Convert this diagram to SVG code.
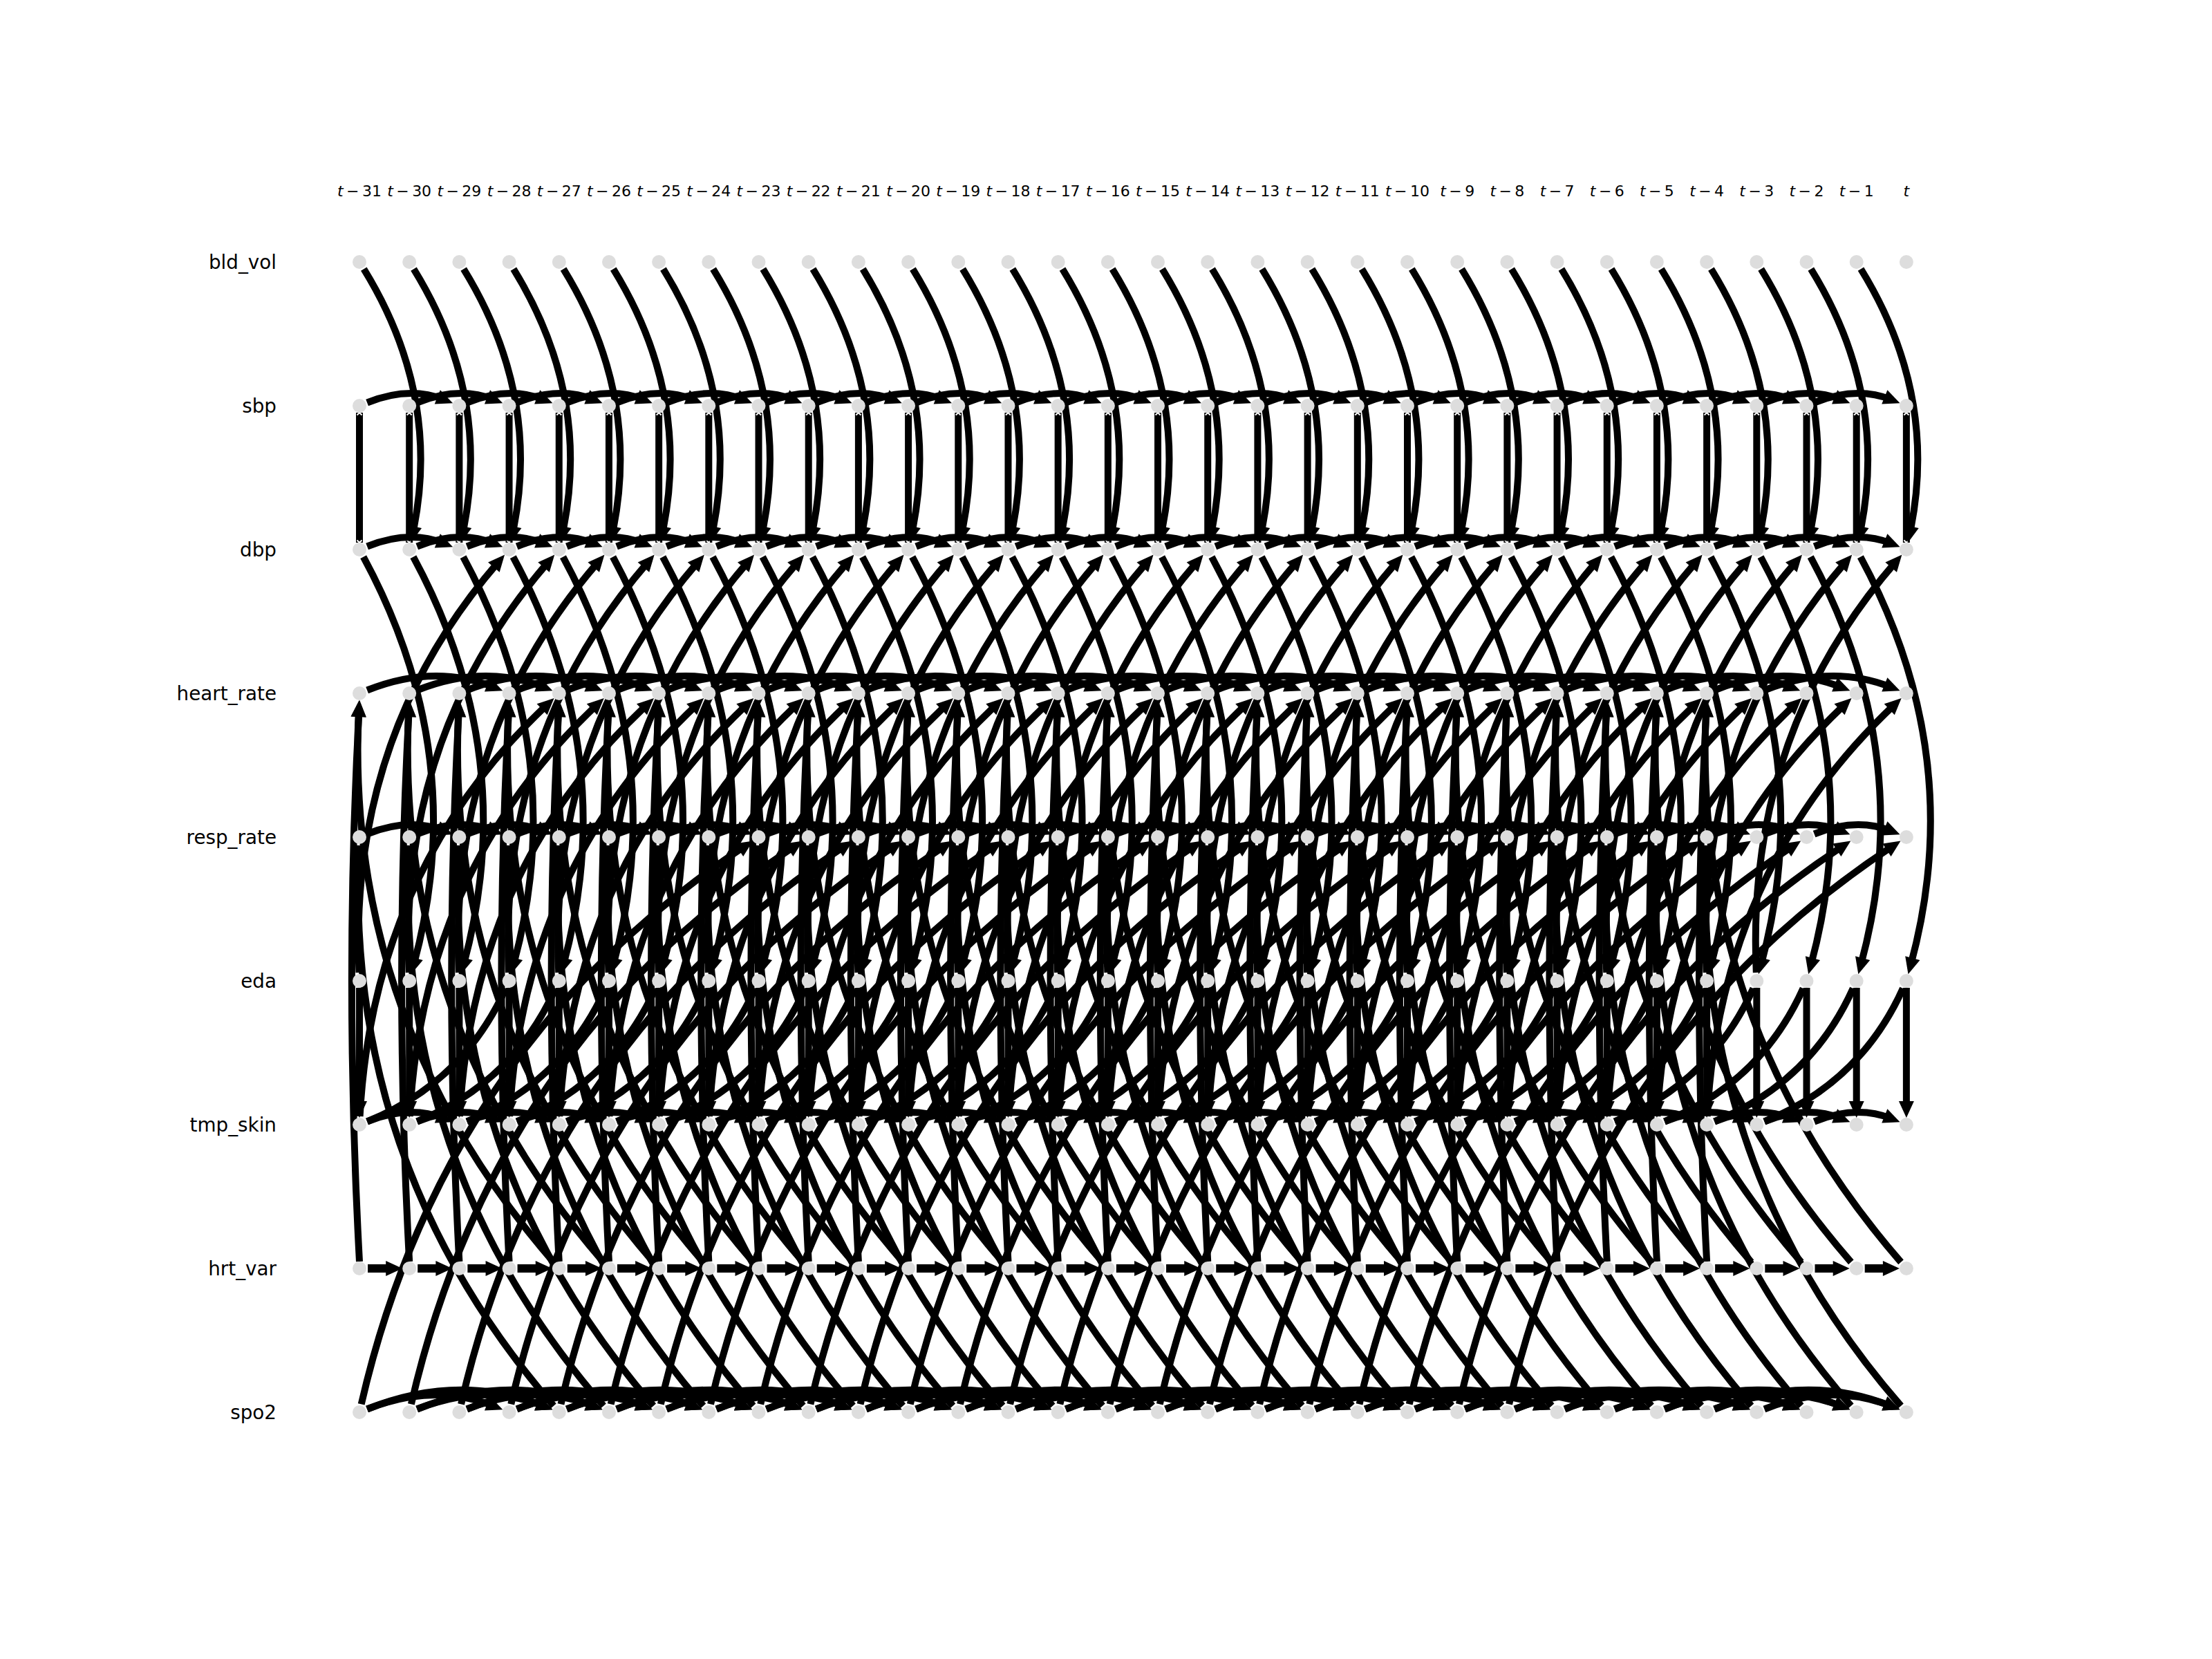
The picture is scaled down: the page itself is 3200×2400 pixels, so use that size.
<svg xmlns="http://www.w3.org/2000/svg" width="3200" height="2400" viewBox="0 0 3200 2400">
<style>
.lbl{font-family:"DejaVu Sans",sans-serif;font-size:27.8px;fill:#000;text-anchor:end}
.tl{font-family:"DejaVu Sans",sans-serif;font-size:22px;fill:#000;text-anchor:middle}
.nodes circle{fill:#dddddd}
.e{fill:none;stroke:#000;stroke-width:10}
.a{marker-end:url(#ah)}
.xx{marker-start:url(#xm);marker-end:url(#xm)}
.w{stroke-width:12}
</style>
<defs>
<marker id="ah" markerUnits="userSpaceOnUse" markerWidth="24" markerHeight="22" refX="10" refY="11" orient="auto" overflow="visible"><path d="M0,0 L24,11 L0,22 Z" fill="#000"/></marker>
<marker id="xm" markerUnits="userSpaceOnUse" markerWidth="12" markerHeight="12" refX="6" refY="6" orient="auto" overflow="visible"><path d="M2.5,2.5 L9.5,9.5 M9.5,2.5 L2.5,9.5" stroke="#fff" stroke-width="2" fill="none"/></marker>
<g id="L0">
<path class="e xx" d="M520,597 L520,785"/>
<path class="e a" d="M520,1429 L520,1603"/>
</g>
<g id="L1">
<path class="e a" d="M526.3,389.2 Q639.3,572.6 597.2,771.5"/>
<path class="e a" d="M525.7,805.6 Q680.9,1092.6 598.5,1395.8"/>
<path class="e a w" d="M532,1835 L568.2,1835"/>
</g>
<g id="L2">
<path class="e a" d="M531.1,582.5 Q592.19,558.1 642.1,578.1"/>
<path class="e a" d="M531.1,790.5 Q592.19,766.1 642.1,786.1"/>
<path class="e a" d="M531.1,1206.5 Q592.19,1182.1 642.1,1202.1"/>
<path class="e a" d="M531.1,1622.5 Q592.19,1598.1 642.1,1618.1"/>
</g>
<g id="L3">
<path class="e a" d="M531.1,998.5 Q628.3,959.7 714.3,994.1"/>
<path class="e a" d="M519.5,1407 Q503.7,1063.6 720.9,813.1"/>
<path class="e a" d="M531.1,2038.5 Q628.3,1999.7 714.3,2034.1"/>
<path class="e" d="M731.6,1429.9 Q669.9,1566.3 531.1,1622.5"/>
</g>
<g id="L4">
<path class="e a" d="M531.1,2038.5 Q664.38,1985.25 786.5,2034.1"/>
<path class="e a" d="M520,1825 Q498,1419 519.5,1027"/>
<path class="e a" d="M520.6,1615 Q539.6,1257.25 791.4,1019.5"/>
<path class="e a" d="M800.9,1825.9 Q497.98,1476.75 518.9,1027"/>
<path class="e" d="M800.9,2033.9 Q497.98,1684.75 519.4,1223"/>
</g>
<g id="L8">
<path class="e a" d="M522.7,2031.3 Q642.4,1511.5 1077.5,1224.2"/>
</g>
<g id="L0x2"><use href="#L0"/><use href="#L0" x="72.19"/></g>
<g id="L0x4"><use href="#L0x2"/><use href="#L0x2" x="144.38"/></g>
<g id="L0x8"><use href="#L0x4"/><use href="#L0x4" x="288.76"/></g>
<g id="L0x16"><use href="#L0x8"/><use href="#L0x8" x="577.52"/></g>
<g id="L1x2"><use href="#L1"/><use href="#L1" x="72.19"/></g>
<g id="L1x4"><use href="#L1x2"/><use href="#L1x2" x="144.38"/></g>
<g id="L1x8"><use href="#L1x4"/><use href="#L1x4" x="288.76"/></g>
<g id="L1x16"><use href="#L1x8"/><use href="#L1x8" x="577.52"/></g>
<g id="L2x2"><use href="#L2"/><use href="#L2" x="72.19"/></g>
<g id="L2x4"><use href="#L2x2"/><use href="#L2x2" x="144.38"/></g>
<g id="L2x8"><use href="#L2x4"/><use href="#L2x4" x="288.76"/></g>
<g id="L2x16"><use href="#L2x8"/><use href="#L2x8" x="577.52"/></g>
<g id="L3x2"><use href="#L3"/><use href="#L3" x="72.19"/></g>
<g id="L3x4"><use href="#L3x2"/><use href="#L3x2" x="144.38"/></g>
<g id="L3x8"><use href="#L3x4"/><use href="#L3x4" x="288.76"/></g>
<g id="L3x16"><use href="#L3x8"/><use href="#L3x8" x="577.52"/></g>
<g id="L4x2"><use href="#L4"/><use href="#L4" x="72.19"/></g>
<g id="L4x4"><use href="#L4x2"/><use href="#L4x2" x="144.38"/></g>
<g id="L4x8"><use href="#L4x4"/><use href="#L4x4" x="288.76"/></g>
<g id="L4x16"><use href="#L4x8"/><use href="#L4x8" x="577.52"/></g>
<g id="L8x2"><use href="#L8"/><use href="#L8" x="72.19"/></g>
<g id="L8x4"><use href="#L8x2"/><use href="#L8x2" x="144.38"/></g>
<g id="L8x8"><use href="#L8x4"/><use href="#L8x4" x="288.76"/></g>
<g id="L8x16"><use href="#L8x8"/><use href="#L8x8" x="577.52"/></g>
</defs>
<rect width="3200" height="2400" fill="#fff"/>
<g id="connectors">
<use href="#L0x16"/><use href="#L0x16" x="1155.04"/>
<use href="#L1x16"/><use href="#L1x8" x="1155.04"/><use href="#L1x4" x="1732.56"/><use href="#L1x2" x="2021.32"/><use href="#L1" x="2165.7"/>
<use href="#L2x16"/><use href="#L2x8" x="1155.04"/><use href="#L2x4" x="1732.56"/><use href="#L2x2" x="2021.32"/>
<use href="#L3x16"/><use href="#L3x8" x="1155.04"/><use href="#L3x4" x="1732.56"/><use href="#L3" x="2021.32"/>
<use href="#L4x16"/><use href="#L4x8" x="1155.04"/><use href="#L4x4" x="1732.56"/>
<use href="#L8x16"/><use href="#L8x8" x="1155.04"/>
</g>
<g id="labels">
<text class="lbl" x="400" y="389">bld_vol</text>
<text class="lbl" x="400" y="597">sbp</text>
<text class="lbl" x="400" y="805">dbp</text>
<text class="lbl" x="400" y="1013">heart_rate</text>
<text class="lbl" x="400" y="1221">resp_rate</text>
<text class="lbl" x="400" y="1429">eda</text>
<text class="lbl" x="400" y="1637">tmp_skin</text>
<text class="lbl" x="400" y="1845">hrt_var</text>
<text class="lbl" x="400" y="2053">spo2</text>
</g>
<g id="time-labels">
<text class="tl" x="520" y="284"><tspan font-style="italic">t</tspan>&#8201;−&#8201;31</text>
<text class="tl" x="592.2" y="284"><tspan font-style="italic">t</tspan>&#8201;−&#8201;30</text>
<text class="tl" x="664.4" y="284"><tspan font-style="italic">t</tspan>&#8201;−&#8201;29</text>
<text class="tl" x="736.6" y="284"><tspan font-style="italic">t</tspan>&#8201;−&#8201;28</text>
<text class="tl" x="808.8" y="284"><tspan font-style="italic">t</tspan>&#8201;−&#8201;27</text>
<text class="tl" x="881" y="284"><tspan font-style="italic">t</tspan>&#8201;−&#8201;26</text>
<text class="tl" x="953.1" y="284"><tspan font-style="italic">t</tspan>&#8201;−&#8201;25</text>
<text class="tl" x="1025.3" y="284"><tspan font-style="italic">t</tspan>&#8201;−&#8201;24</text>
<text class="tl" x="1097.5" y="284"><tspan font-style="italic">t</tspan>&#8201;−&#8201;23</text>
<text class="tl" x="1169.7" y="284"><tspan font-style="italic">t</tspan>&#8201;−&#8201;22</text>
<text class="tl" x="1241.9" y="284"><tspan font-style="italic">t</tspan>&#8201;−&#8201;21</text>
<text class="tl" x="1314.1" y="284"><tspan font-style="italic">t</tspan>&#8201;−&#8201;20</text>
<text class="tl" x="1386.3" y="284"><tspan font-style="italic">t</tspan>&#8201;−&#8201;19</text>
<text class="tl" x="1458.5" y="284"><tspan font-style="italic">t</tspan>&#8201;−&#8201;18</text>
<text class="tl" x="1530.7" y="284"><tspan font-style="italic">t</tspan>&#8201;−&#8201;17</text>
<text class="tl" x="1602.9" y="284"><tspan font-style="italic">t</tspan>&#8201;−&#8201;16</text>
<text class="tl" x="1675" y="284"><tspan font-style="italic">t</tspan>&#8201;−&#8201;15</text>
<text class="tl" x="1747.2" y="284"><tspan font-style="italic">t</tspan>&#8201;−&#8201;14</text>
<text class="tl" x="1819.4" y="284"><tspan font-style="italic">t</tspan>&#8201;−&#8201;13</text>
<text class="tl" x="1891.6" y="284"><tspan font-style="italic">t</tspan>&#8201;−&#8201;12</text>
<text class="tl" x="1963.8" y="284"><tspan font-style="italic">t</tspan>&#8201;−&#8201;11</text>
<text class="tl" x="2036" y="284"><tspan font-style="italic">t</tspan>&#8201;−&#8201;10</text>
<text class="tl" x="2108.2" y="284"><tspan font-style="italic">t</tspan>&#8201;−&#8201;9</text>
<text class="tl" x="2180.4" y="284"><tspan font-style="italic">t</tspan>&#8201;−&#8201;8</text>
<text class="tl" x="2252.6" y="284"><tspan font-style="italic">t</tspan>&#8201;−&#8201;7</text>
<text class="tl" x="2324.8" y="284"><tspan font-style="italic">t</tspan>&#8201;−&#8201;6</text>
<text class="tl" x="2396.9" y="284"><tspan font-style="italic">t</tspan>&#8201;−&#8201;5</text>
<text class="tl" x="2469.1" y="284"><tspan font-style="italic">t</tspan>&#8201;−&#8201;4</text>
<text class="tl" x="2541.3" y="284"><tspan font-style="italic">t</tspan>&#8201;−&#8201;3</text>
<text class="tl" x="2613.5" y="284"><tspan font-style="italic">t</tspan>&#8201;−&#8201;2</text>
<text class="tl" x="2685.7" y="284"><tspan font-style="italic">t</tspan>&#8201;−&#8201;1</text>
<text class="tl" x="2757.9" y="284"><tspan font-style="italic">t</tspan></text>
</g>
<g id="nodes" class="nodes">
<g id="n-bld_vol-31"><circle cx="520" cy="379" r="10"/></g>
<g id="n-bld_vol-30"><circle cx="592.2" cy="379" r="10"/></g>
<g id="n-bld_vol-29"><circle cx="664.4" cy="379" r="10"/></g>
<g id="n-bld_vol-28"><circle cx="736.6" cy="379" r="10"/></g>
<g id="n-bld_vol-27"><circle cx="808.8" cy="379" r="10"/></g>
<g id="n-bld_vol-26"><circle cx="881" cy="379" r="10"/></g>
<g id="n-bld_vol-25"><circle cx="953.1" cy="379" r="10"/></g>
<g id="n-bld_vol-24"><circle cx="1025.3" cy="379" r="10"/></g>
<g id="n-bld_vol-23"><circle cx="1097.5" cy="379" r="10"/></g>
<g id="n-bld_vol-22"><circle cx="1169.7" cy="379" r="10"/></g>
<g id="n-bld_vol-21"><circle cx="1241.9" cy="379" r="10"/></g>
<g id="n-bld_vol-20"><circle cx="1314.1" cy="379" r="10"/></g>
<g id="n-bld_vol-19"><circle cx="1386.3" cy="379" r="10"/></g>
<g id="n-bld_vol-18"><circle cx="1458.5" cy="379" r="10"/></g>
<g id="n-bld_vol-17"><circle cx="1530.7" cy="379" r="10"/></g>
<g id="n-bld_vol-16"><circle cx="1602.9" cy="379" r="10"/></g>
<g id="n-bld_vol-15"><circle cx="1675" cy="379" r="10"/></g>
<g id="n-bld_vol-14"><circle cx="1747.2" cy="379" r="10"/></g>
<g id="n-bld_vol-13"><circle cx="1819.4" cy="379" r="10"/></g>
<g id="n-bld_vol-12"><circle cx="1891.6" cy="379" r="10"/></g>
<g id="n-bld_vol-11"><circle cx="1963.8" cy="379" r="10"/></g>
<g id="n-bld_vol-10"><circle cx="2036" cy="379" r="10"/></g>
<g id="n-bld_vol-9"><circle cx="2108.2" cy="379" r="10"/></g>
<g id="n-bld_vol-8"><circle cx="2180.4" cy="379" r="10"/></g>
<g id="n-bld_vol-7"><circle cx="2252.6" cy="379" r="10"/></g>
<g id="n-bld_vol-6"><circle cx="2324.8" cy="379" r="10"/></g>
<g id="n-bld_vol-5"><circle cx="2396.9" cy="379" r="10"/></g>
<g id="n-bld_vol-4"><circle cx="2469.1" cy="379" r="10"/></g>
<g id="n-bld_vol-3"><circle cx="2541.3" cy="379" r="10"/></g>
<g id="n-bld_vol-2"><circle cx="2613.5" cy="379" r="10"/></g>
<g id="n-bld_vol-1"><circle cx="2685.7" cy="379" r="10"/></g>
<g id="n-bld_vol-0"><circle cx="2757.9" cy="379" r="10"/></g>
<g id="n-sbp-31"><circle cx="520" cy="587" r="10"/></g>
<g id="n-sbp-30"><circle cx="592.2" cy="587" r="10"/></g>
<g id="n-sbp-29"><circle cx="664.4" cy="587" r="10"/></g>
<g id="n-sbp-28"><circle cx="736.6" cy="587" r="10"/></g>
<g id="n-sbp-27"><circle cx="808.8" cy="587" r="10"/></g>
<g id="n-sbp-26"><circle cx="881" cy="587" r="10"/></g>
<g id="n-sbp-25"><circle cx="953.1" cy="587" r="10"/></g>
<g id="n-sbp-24"><circle cx="1025.3" cy="587" r="10"/></g>
<g id="n-sbp-23"><circle cx="1097.5" cy="587" r="10"/></g>
<g id="n-sbp-22"><circle cx="1169.7" cy="587" r="10"/></g>
<g id="n-sbp-21"><circle cx="1241.9" cy="587" r="10"/></g>
<g id="n-sbp-20"><circle cx="1314.1" cy="587" r="10"/></g>
<g id="n-sbp-19"><circle cx="1386.3" cy="587" r="10"/></g>
<g id="n-sbp-18"><circle cx="1458.5" cy="587" r="10"/></g>
<g id="n-sbp-17"><circle cx="1530.7" cy="587" r="10"/></g>
<g id="n-sbp-16"><circle cx="1602.9" cy="587" r="10"/></g>
<g id="n-sbp-15"><circle cx="1675" cy="587" r="10"/></g>
<g id="n-sbp-14"><circle cx="1747.2" cy="587" r="10"/></g>
<g id="n-sbp-13"><circle cx="1819.4" cy="587" r="10"/></g>
<g id="n-sbp-12"><circle cx="1891.6" cy="587" r="10"/></g>
<g id="n-sbp-11"><circle cx="1963.8" cy="587" r="10"/></g>
<g id="n-sbp-10"><circle cx="2036" cy="587" r="10"/></g>
<g id="n-sbp-9"><circle cx="2108.2" cy="587" r="10"/></g>
<g id="n-sbp-8"><circle cx="2180.4" cy="587" r="10"/></g>
<g id="n-sbp-7"><circle cx="2252.6" cy="587" r="10"/></g>
<g id="n-sbp-6"><circle cx="2324.8" cy="587" r="10"/></g>
<g id="n-sbp-5"><circle cx="2396.9" cy="587" r="10"/></g>
<g id="n-sbp-4"><circle cx="2469.1" cy="587" r="10"/></g>
<g id="n-sbp-3"><circle cx="2541.3" cy="587" r="10"/></g>
<g id="n-sbp-2"><circle cx="2613.5" cy="587" r="10"/></g>
<g id="n-sbp-1"><circle cx="2685.7" cy="587" r="10"/></g>
<g id="n-sbp-0"><circle cx="2757.9" cy="587" r="10"/></g>
<g id="n-dbp-31"><circle cx="520" cy="795" r="10"/></g>
<g id="n-dbp-30"><circle cx="592.2" cy="795" r="10"/></g>
<g id="n-dbp-29"><circle cx="664.4" cy="795" r="10"/></g>
<g id="n-dbp-28"><circle cx="736.6" cy="795" r="10"/></g>
<g id="n-dbp-27"><circle cx="808.8" cy="795" r="10"/></g>
<g id="n-dbp-26"><circle cx="881" cy="795" r="10"/></g>
<g id="n-dbp-25"><circle cx="953.1" cy="795" r="10"/></g>
<g id="n-dbp-24"><circle cx="1025.3" cy="795" r="10"/></g>
<g id="n-dbp-23"><circle cx="1097.5" cy="795" r="10"/></g>
<g id="n-dbp-22"><circle cx="1169.7" cy="795" r="10"/></g>
<g id="n-dbp-21"><circle cx="1241.9" cy="795" r="10"/></g>
<g id="n-dbp-20"><circle cx="1314.1" cy="795" r="10"/></g>
<g id="n-dbp-19"><circle cx="1386.3" cy="795" r="10"/></g>
<g id="n-dbp-18"><circle cx="1458.5" cy="795" r="10"/></g>
<g id="n-dbp-17"><circle cx="1530.7" cy="795" r="10"/></g>
<g id="n-dbp-16"><circle cx="1602.9" cy="795" r="10"/></g>
<g id="n-dbp-15"><circle cx="1675" cy="795" r="10"/></g>
<g id="n-dbp-14"><circle cx="1747.2" cy="795" r="10"/></g>
<g id="n-dbp-13"><circle cx="1819.4" cy="795" r="10"/></g>
<g id="n-dbp-12"><circle cx="1891.6" cy="795" r="10"/></g>
<g id="n-dbp-11"><circle cx="1963.8" cy="795" r="10"/></g>
<g id="n-dbp-10"><circle cx="2036" cy="795" r="10"/></g>
<g id="n-dbp-9"><circle cx="2108.2" cy="795" r="10"/></g>
<g id="n-dbp-8"><circle cx="2180.4" cy="795" r="10"/></g>
<g id="n-dbp-7"><circle cx="2252.6" cy="795" r="10"/></g>
<g id="n-dbp-6"><circle cx="2324.8" cy="795" r="10"/></g>
<g id="n-dbp-5"><circle cx="2396.9" cy="795" r="10"/></g>
<g id="n-dbp-4"><circle cx="2469.1" cy="795" r="10"/></g>
<g id="n-dbp-3"><circle cx="2541.3" cy="795" r="10"/></g>
<g id="n-dbp-2"><circle cx="2613.5" cy="795" r="10"/></g>
<g id="n-dbp-1"><circle cx="2685.7" cy="795" r="10"/></g>
<g id="n-dbp-0"><circle cx="2757.9" cy="795" r="10"/></g>
<g id="n-heart_rate-31"><circle cx="520" cy="1003" r="10"/></g>
<g id="n-heart_rate-30"><circle cx="592.2" cy="1003" r="10"/></g>
<g id="n-heart_rate-29"><circle cx="664.4" cy="1003" r="10"/></g>
<g id="n-heart_rate-28"><circle cx="736.6" cy="1003" r="10"/></g>
<g id="n-heart_rate-27"><circle cx="808.8" cy="1003" r="10"/></g>
<g id="n-heart_rate-26"><circle cx="881" cy="1003" r="10"/></g>
<g id="n-heart_rate-25"><circle cx="953.1" cy="1003" r="10"/></g>
<g id="n-heart_rate-24"><circle cx="1025.3" cy="1003" r="10"/></g>
<g id="n-heart_rate-23"><circle cx="1097.5" cy="1003" r="10"/></g>
<g id="n-heart_rate-22"><circle cx="1169.7" cy="1003" r="10"/></g>
<g id="n-heart_rate-21"><circle cx="1241.9" cy="1003" r="10"/></g>
<g id="n-heart_rate-20"><circle cx="1314.1" cy="1003" r="10"/></g>
<g id="n-heart_rate-19"><circle cx="1386.3" cy="1003" r="10"/></g>
<g id="n-heart_rate-18"><circle cx="1458.5" cy="1003" r="10"/></g>
<g id="n-heart_rate-17"><circle cx="1530.7" cy="1003" r="10"/></g>
<g id="n-heart_rate-16"><circle cx="1602.9" cy="1003" r="10"/></g>
<g id="n-heart_rate-15"><circle cx="1675" cy="1003" r="10"/></g>
<g id="n-heart_rate-14"><circle cx="1747.2" cy="1003" r="10"/></g>
<g id="n-heart_rate-13"><circle cx="1819.4" cy="1003" r="10"/></g>
<g id="n-heart_rate-12"><circle cx="1891.6" cy="1003" r="10"/></g>
<g id="n-heart_rate-11"><circle cx="1963.8" cy="1003" r="10"/></g>
<g id="n-heart_rate-10"><circle cx="2036" cy="1003" r="10"/></g>
<g id="n-heart_rate-9"><circle cx="2108.2" cy="1003" r="10"/></g>
<g id="n-heart_rate-8"><circle cx="2180.4" cy="1003" r="10"/></g>
<g id="n-heart_rate-7"><circle cx="2252.6" cy="1003" r="10"/></g>
<g id="n-heart_rate-6"><circle cx="2324.8" cy="1003" r="10"/></g>
<g id="n-heart_rate-5"><circle cx="2396.9" cy="1003" r="10"/></g>
<g id="n-heart_rate-4"><circle cx="2469.1" cy="1003" r="10"/></g>
<g id="n-heart_rate-3"><circle cx="2541.3" cy="1003" r="10"/></g>
<g id="n-heart_rate-2"><circle cx="2613.5" cy="1003" r="10"/></g>
<g id="n-heart_rate-1"><circle cx="2685.7" cy="1003" r="10"/></g>
<g id="n-heart_rate-0"><circle cx="2757.9" cy="1003" r="10"/></g>
<g id="n-resp_rate-31"><circle cx="520" cy="1211" r="10"/></g>
<g id="n-resp_rate-30"><circle cx="592.2" cy="1211" r="10"/></g>
<g id="n-resp_rate-29"><circle cx="664.4" cy="1211" r="10"/></g>
<g id="n-resp_rate-28"><circle cx="736.6" cy="1211" r="10"/></g>
<g id="n-resp_rate-27"><circle cx="808.8" cy="1211" r="10"/></g>
<g id="n-resp_rate-26"><circle cx="881" cy="1211" r="10"/></g>
<g id="n-resp_rate-25"><circle cx="953.1" cy="1211" r="10"/></g>
<g id="n-resp_rate-24"><circle cx="1025.3" cy="1211" r="10"/></g>
<g id="n-resp_rate-23"><circle cx="1097.5" cy="1211" r="10"/></g>
<g id="n-resp_rate-22"><circle cx="1169.7" cy="1211" r="10"/></g>
<g id="n-resp_rate-21"><circle cx="1241.9" cy="1211" r="10"/></g>
<g id="n-resp_rate-20"><circle cx="1314.1" cy="1211" r="10"/></g>
<g id="n-resp_rate-19"><circle cx="1386.3" cy="1211" r="10"/></g>
<g id="n-resp_rate-18"><circle cx="1458.5" cy="1211" r="10"/></g>
<g id="n-resp_rate-17"><circle cx="1530.7" cy="1211" r="10"/></g>
<g id="n-resp_rate-16"><circle cx="1602.9" cy="1211" r="10"/></g>
<g id="n-resp_rate-15"><circle cx="1675" cy="1211" r="10"/></g>
<g id="n-resp_rate-14"><circle cx="1747.2" cy="1211" r="10"/></g>
<g id="n-resp_rate-13"><circle cx="1819.4" cy="1211" r="10"/></g>
<g id="n-resp_rate-12"><circle cx="1891.6" cy="1211" r="10"/></g>
<g id="n-resp_rate-11"><circle cx="1963.8" cy="1211" r="10"/></g>
<g id="n-resp_rate-10"><circle cx="2036" cy="1211" r="10"/></g>
<g id="n-resp_rate-9"><circle cx="2108.2" cy="1211" r="10"/></g>
<g id="n-resp_rate-8"><circle cx="2180.4" cy="1211" r="10"/></g>
<g id="n-resp_rate-7"><circle cx="2252.6" cy="1211" r="10"/></g>
<g id="n-resp_rate-6"><circle cx="2324.8" cy="1211" r="10"/></g>
<g id="n-resp_rate-5"><circle cx="2396.9" cy="1211" r="10"/></g>
<g id="n-resp_rate-4"><circle cx="2469.1" cy="1211" r="10"/></g>
<g id="n-resp_rate-3"><circle cx="2541.3" cy="1211" r="10"/></g>
<g id="n-resp_rate-2"><circle cx="2613.5" cy="1211" r="10"/></g>
<g id="n-resp_rate-1"><circle cx="2685.7" cy="1211" r="10"/></g>
<g id="n-resp_rate-0"><circle cx="2757.9" cy="1211" r="10"/></g>
<g id="n-eda-31"><circle cx="520" cy="1419" r="10"/></g>
<g id="n-eda-30"><circle cx="592.2" cy="1419" r="10"/></g>
<g id="n-eda-29"><circle cx="664.4" cy="1419" r="10"/></g>
<g id="n-eda-28"><circle cx="736.6" cy="1419" r="10"/></g>
<g id="n-eda-27"><circle cx="808.8" cy="1419" r="10"/></g>
<g id="n-eda-26"><circle cx="881" cy="1419" r="10"/></g>
<g id="n-eda-25"><circle cx="953.1" cy="1419" r="10"/></g>
<g id="n-eda-24"><circle cx="1025.3" cy="1419" r="10"/></g>
<g id="n-eda-23"><circle cx="1097.5" cy="1419" r="10"/></g>
<g id="n-eda-22"><circle cx="1169.7" cy="1419" r="10"/></g>
<g id="n-eda-21"><circle cx="1241.9" cy="1419" r="10"/></g>
<g id="n-eda-20"><circle cx="1314.1" cy="1419" r="10"/></g>
<g id="n-eda-19"><circle cx="1386.3" cy="1419" r="10"/></g>
<g id="n-eda-18"><circle cx="1458.5" cy="1419" r="10"/></g>
<g id="n-eda-17"><circle cx="1530.7" cy="1419" r="10"/></g>
<g id="n-eda-16"><circle cx="1602.9" cy="1419" r="10"/></g>
<g id="n-eda-15"><circle cx="1675" cy="1419" r="10"/></g>
<g id="n-eda-14"><circle cx="1747.2" cy="1419" r="10"/></g>
<g id="n-eda-13"><circle cx="1819.4" cy="1419" r="10"/></g>
<g id="n-eda-12"><circle cx="1891.6" cy="1419" r="10"/></g>
<g id="n-eda-11"><circle cx="1963.8" cy="1419" r="10"/></g>
<g id="n-eda-10"><circle cx="2036" cy="1419" r="10"/></g>
<g id="n-eda-9"><circle cx="2108.2" cy="1419" r="10"/></g>
<g id="n-eda-8"><circle cx="2180.4" cy="1419" r="10"/></g>
<g id="n-eda-7"><circle cx="2252.6" cy="1419" r="10"/></g>
<g id="n-eda-6"><circle cx="2324.8" cy="1419" r="10"/></g>
<g id="n-eda-5"><circle cx="2396.9" cy="1419" r="10"/></g>
<g id="n-eda-4"><circle cx="2469.1" cy="1419" r="10"/></g>
<g id="n-eda-3"><circle cx="2541.3" cy="1419" r="10"/></g>
<g id="n-eda-2"><circle cx="2613.5" cy="1419" r="10"/></g>
<g id="n-eda-1"><circle cx="2685.7" cy="1419" r="10"/></g>
<g id="n-eda-0"><circle cx="2757.9" cy="1419" r="10"/></g>
<g id="n-tmp_skin-31"><circle cx="520" cy="1627" r="10"/></g>
<g id="n-tmp_skin-30"><circle cx="592.2" cy="1627" r="10"/></g>
<g id="n-tmp_skin-29"><circle cx="664.4" cy="1627" r="10"/></g>
<g id="n-tmp_skin-28"><circle cx="736.6" cy="1627" r="10"/></g>
<g id="n-tmp_skin-27"><circle cx="808.8" cy="1627" r="10"/></g>
<g id="n-tmp_skin-26"><circle cx="881" cy="1627" r="10"/></g>
<g id="n-tmp_skin-25"><circle cx="953.1" cy="1627" r="10"/></g>
<g id="n-tmp_skin-24"><circle cx="1025.3" cy="1627" r="10"/></g>
<g id="n-tmp_skin-23"><circle cx="1097.5" cy="1627" r="10"/></g>
<g id="n-tmp_skin-22"><circle cx="1169.7" cy="1627" r="10"/></g>
<g id="n-tmp_skin-21"><circle cx="1241.9" cy="1627" r="10"/></g>
<g id="n-tmp_skin-20"><circle cx="1314.1" cy="1627" r="10"/></g>
<g id="n-tmp_skin-19"><circle cx="1386.3" cy="1627" r="10"/></g>
<g id="n-tmp_skin-18"><circle cx="1458.5" cy="1627" r="10"/></g>
<g id="n-tmp_skin-17"><circle cx="1530.7" cy="1627" r="10"/></g>
<g id="n-tmp_skin-16"><circle cx="1602.9" cy="1627" r="10"/></g>
<g id="n-tmp_skin-15"><circle cx="1675" cy="1627" r="10"/></g>
<g id="n-tmp_skin-14"><circle cx="1747.2" cy="1627" r="10"/></g>
<g id="n-tmp_skin-13"><circle cx="1819.4" cy="1627" r="10"/></g>
<g id="n-tmp_skin-12"><circle cx="1891.6" cy="1627" r="10"/></g>
<g id="n-tmp_skin-11"><circle cx="1963.8" cy="1627" r="10"/></g>
<g id="n-tmp_skin-10"><circle cx="2036" cy="1627" r="10"/></g>
<g id="n-tmp_skin-9"><circle cx="2108.2" cy="1627" r="10"/></g>
<g id="n-tmp_skin-8"><circle cx="2180.4" cy="1627" r="10"/></g>
<g id="n-tmp_skin-7"><circle cx="2252.6" cy="1627" r="10"/></g>
<g id="n-tmp_skin-6"><circle cx="2324.8" cy="1627" r="10"/></g>
<g id="n-tmp_skin-5"><circle cx="2396.9" cy="1627" r="10"/></g>
<g id="n-tmp_skin-4"><circle cx="2469.1" cy="1627" r="10"/></g>
<g id="n-tmp_skin-3"><circle cx="2541.3" cy="1627" r="10"/></g>
<g id="n-tmp_skin-2"><circle cx="2613.5" cy="1627" r="10"/></g>
<g id="n-tmp_skin-1"><circle cx="2685.7" cy="1627" r="10"/></g>
<g id="n-tmp_skin-0"><circle cx="2757.9" cy="1627" r="10"/></g>
<g id="n-hrt_var-31"><circle cx="520" cy="1835" r="10"/></g>
<g id="n-hrt_var-30"><circle cx="592.2" cy="1835" r="10"/></g>
<g id="n-hrt_var-29"><circle cx="664.4" cy="1835" r="10"/></g>
<g id="n-hrt_var-28"><circle cx="736.6" cy="1835" r="10"/></g>
<g id="n-hrt_var-27"><circle cx="808.8" cy="1835" r="10"/></g>
<g id="n-hrt_var-26"><circle cx="881" cy="1835" r="10"/></g>
<g id="n-hrt_var-25"><circle cx="953.1" cy="1835" r="10"/></g>
<g id="n-hrt_var-24"><circle cx="1025.3" cy="1835" r="10"/></g>
<g id="n-hrt_var-23"><circle cx="1097.5" cy="1835" r="10"/></g>
<g id="n-hrt_var-22"><circle cx="1169.7" cy="1835" r="10"/></g>
<g id="n-hrt_var-21"><circle cx="1241.9" cy="1835" r="10"/></g>
<g id="n-hrt_var-20"><circle cx="1314.1" cy="1835" r="10"/></g>
<g id="n-hrt_var-19"><circle cx="1386.3" cy="1835" r="10"/></g>
<g id="n-hrt_var-18"><circle cx="1458.5" cy="1835" r="10"/></g>
<g id="n-hrt_var-17"><circle cx="1530.7" cy="1835" r="10"/></g>
<g id="n-hrt_var-16"><circle cx="1602.9" cy="1835" r="10"/></g>
<g id="n-hrt_var-15"><circle cx="1675" cy="1835" r="10"/></g>
<g id="n-hrt_var-14"><circle cx="1747.2" cy="1835" r="10"/></g>
<g id="n-hrt_var-13"><circle cx="1819.4" cy="1835" r="10"/></g>
<g id="n-hrt_var-12"><circle cx="1891.6" cy="1835" r="10"/></g>
<g id="n-hrt_var-11"><circle cx="1963.8" cy="1835" r="10"/></g>
<g id="n-hrt_var-10"><circle cx="2036" cy="1835" r="10"/></g>
<g id="n-hrt_var-9"><circle cx="2108.2" cy="1835" r="10"/></g>
<g id="n-hrt_var-8"><circle cx="2180.4" cy="1835" r="10"/></g>
<g id="n-hrt_var-7"><circle cx="2252.6" cy="1835" r="10"/></g>
<g id="n-hrt_var-6"><circle cx="2324.8" cy="1835" r="10"/></g>
<g id="n-hrt_var-5"><circle cx="2396.9" cy="1835" r="10"/></g>
<g id="n-hrt_var-4"><circle cx="2469.1" cy="1835" r="10"/></g>
<g id="n-hrt_var-3"><circle cx="2541.3" cy="1835" r="10"/></g>
<g id="n-hrt_var-2"><circle cx="2613.5" cy="1835" r="10"/></g>
<g id="n-hrt_var-1"><circle cx="2685.7" cy="1835" r="10"/></g>
<g id="n-hrt_var-0"><circle cx="2757.9" cy="1835" r="10"/></g>
<g id="n-spo2-31"><circle cx="520" cy="2043" r="10"/></g>
<g id="n-spo2-30"><circle cx="592.2" cy="2043" r="10"/></g>
<g id="n-spo2-29"><circle cx="664.4" cy="2043" r="10"/></g>
<g id="n-spo2-28"><circle cx="736.6" cy="2043" r="10"/></g>
<g id="n-spo2-27"><circle cx="808.8" cy="2043" r="10"/></g>
<g id="n-spo2-26"><circle cx="881" cy="2043" r="10"/></g>
<g id="n-spo2-25"><circle cx="953.1" cy="2043" r="10"/></g>
<g id="n-spo2-24"><circle cx="1025.3" cy="2043" r="10"/></g>
<g id="n-spo2-23"><circle cx="1097.5" cy="2043" r="10"/></g>
<g id="n-spo2-22"><circle cx="1169.7" cy="2043" r="10"/></g>
<g id="n-spo2-21"><circle cx="1241.9" cy="2043" r="10"/></g>
<g id="n-spo2-20"><circle cx="1314.1" cy="2043" r="10"/></g>
<g id="n-spo2-19"><circle cx="1386.3" cy="2043" r="10"/></g>
<g id="n-spo2-18"><circle cx="1458.5" cy="2043" r="10"/></g>
<g id="n-spo2-17"><circle cx="1530.7" cy="2043" r="10"/></g>
<g id="n-spo2-16"><circle cx="1602.9" cy="2043" r="10"/></g>
<g id="n-spo2-15"><circle cx="1675" cy="2043" r="10"/></g>
<g id="n-spo2-14"><circle cx="1747.2" cy="2043" r="10"/></g>
<g id="n-spo2-13"><circle cx="1819.4" cy="2043" r="10"/></g>
<g id="n-spo2-12"><circle cx="1891.6" cy="2043" r="10"/></g>
<g id="n-spo2-11"><circle cx="1963.8" cy="2043" r="10"/></g>
<g id="n-spo2-10"><circle cx="2036" cy="2043" r="10"/></g>
<g id="n-spo2-9"><circle cx="2108.2" cy="2043" r="10"/></g>
<g id="n-spo2-8"><circle cx="2180.4" cy="2043" r="10"/></g>
<g id="n-spo2-7"><circle cx="2252.6" cy="2043" r="10"/></g>
<g id="n-spo2-6"><circle cx="2324.8" cy="2043" r="10"/></g>
<g id="n-spo2-5"><circle cx="2396.9" cy="2043" r="10"/></g>
<g id="n-spo2-4"><circle cx="2469.1" cy="2043" r="10"/></g>
<g id="n-spo2-3"><circle cx="2541.3" cy="2043" r="10"/></g>
<g id="n-spo2-2"><circle cx="2613.5" cy="2043" r="10"/></g>
<g id="n-spo2-1"><circle cx="2685.7" cy="2043" r="10"/></g>
<g id="n-spo2-0"><circle cx="2757.9" cy="2043" r="10"/></g>
</g>
</svg>
